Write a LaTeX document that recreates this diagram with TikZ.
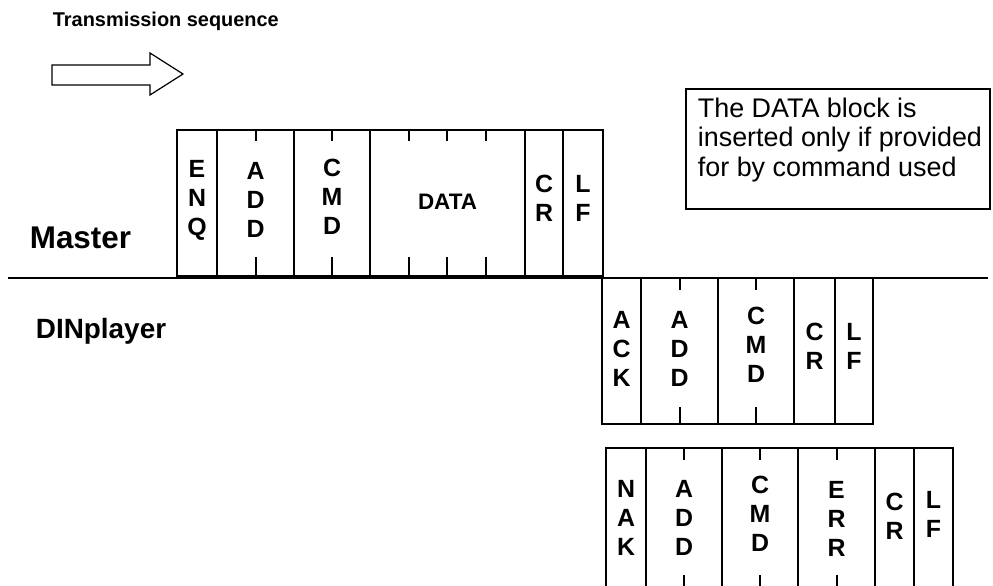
\documentclass[tikz,border=0pt]{standalone}
\usepackage{fontspec}
\setmainfont{Liberation Sans}
\begin{document}
\begin{tikzpicture}[x=1bp,y=-1bp,line width=1.8bp,
  lbl/.style={font=\bfseries\fontsize{25}{29}\selectfont,align=center,inner sep=0pt},
  side/.style={font=\bfseries\fontsize{30}{36}\selectfont,anchor=base west,inner sep=0pt}]
\useasboundingbox (0,0) rectangle (993,586);
\node[anchor=base west,inner sep=0pt,font=\bfseries\fontsize{20}{24}\selectfont] (title) at (52,27) {Transmission sequence};
\draw[line width=1.2bp] (52,65) -- (150,65) -- (150,53) -- (183,74) -- (150,95) -- (150,85) -- (52,85) -- cycle;

\draw (177,130) rectangle (603,276);
\foreach \x in {217,294,370,525,563}\draw (\x,130) -- (\x,276);
\foreach \x in {256,332,409,447,486}{\draw (\x,130) -- (\x,141); \draw (\x,257) -- (\x,276);}
\node[lbl] (enq) at (197,200) {E\\N\\Q};
\node[lbl] (madd) at (255.5,200) {A\\D\\D};
\node[lbl] (mcmd) at (332,197) {C\\M\\D};
\node[lbl,font=\bfseries\fontsize{22.5}{26}\selectfont] (data) at (447.5,202) {DATA};
\node[lbl] (mcr) at (544,198) {C\\R};
\node[lbl] (mlf) at (583,198) {L\\F};

\node[side,font=\bfseries\fontsize{31.5}{36}\selectfont] (master) at (29,249) {Master};
\draw (8,278) -- (988,278);
\node[side,font=\bfseries\fontsize{28}{34}\selectfont] (player) at (35,338) {DINplayer};

\draw[line width=1.2bp] (686,89) rectangle (990,209);
\node[anchor=north west,inner sep=0pt,align=left,font=\fontsize{27}{29.5}\selectfont] (note) at (697,97)
  {The DATA block is\\inserted only if provided\\for by command used};

\draw (602,278) rectangle (873,424);
\foreach \x in {641,718,794,835}\draw (\x,278) -- (\x,424);
\foreach \x in {680,756}{\draw (\x,278) -- (\x,290); \draw (\x,407) -- (\x,424);}
\node[lbl] (ack) at (621.5,349) {A\\C\\K};
\node[lbl] (aadd) at (679.5,349) {A\\D\\D};
\node[lbl] (acmd) at (756,345) {C\\M\\D};
\node[lbl] (acr) at (814.5,346) {C\\R};
\node[lbl] (alf) at (854,346) {L\\F};

\draw (606,590) -- (606,448) -- (953,448) -- (953,590);
\foreach \x in {646,722,798,875,914}\draw (\x,448) -- (\x,590);
\foreach \x in {684,760,837}{\draw (\x,448) -- (\x,460); \draw (\x,575) -- (\x,590);}
\node[lbl] (nak) at (626,518) {N\\A\\K};
\node[lbl] (nadd) at (684,518) {A\\D\\D};
\node[lbl] (ncmd) at (760,514) {C\\M\\D};
\node[lbl] (nerr) at (836.5,519) {E\\R\\R};
\node[lbl] (ncr) at (894.5,516) {C\\R};
\node[lbl] (nlf) at (933.5,514) {L\\F};
\end{tikzpicture}
\end{document}
